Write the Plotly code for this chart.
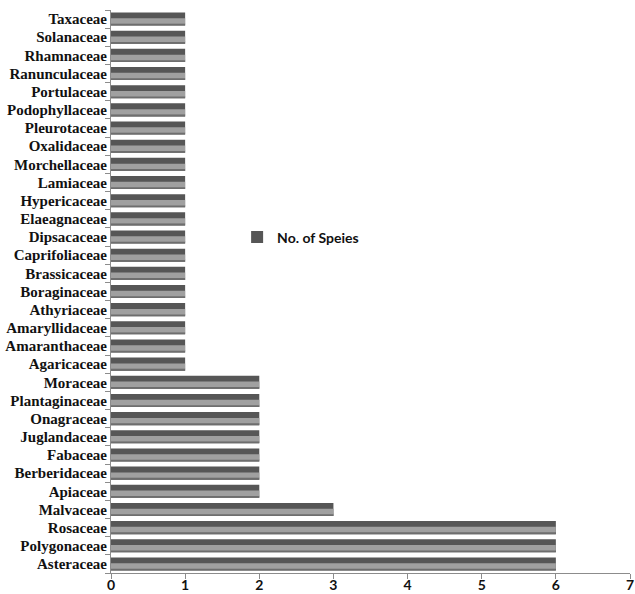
import plotly.graph_objects as go

families = [
    "Asteraceae", "Polygonaceae", "Rosaceae", "Malvaceae", "Apiaceae",
    "Berberidaceae", "Fabaceae", "Juglandaceae", "Onagraceae", "Plantaginaceae",
    "Moraceae", "Agaricaceae", "Amaranthaceae", "Amaryllidaceae", "Athyriaceae",
    "Boraginaceae", "Brassicaceae", "Caprifoliaceae", "Dipsacaceae", "Elaeagnaceae",
    "Hypericaceae", "Lamiaceae", "Morchellaceae", "Oxalidaceae", "Pleurotaceae",
    "Podophyllaceae", "Portulaceae", "Ranunculaceae", "Rhamnaceae", "Solanaceae",
    "Taxaceae",
]
species_counts = [6, 6, 6, 3, 2, 2, 2, 2, 2, 2, 2,
                  1, 1, 1, 1, 1, 1, 1, 1, 1, 1, 1, 1, 1, 1, 1, 1, 1, 1, 1, 1]
series_name = "No. of Speies"

fig = go.Figure()

# Cylinder-style shading: dark upper half, light band below it, mid-grey lower edge
fig.add_trace(go.Bar(
    y=families, x=species_counts, orientation="h", name=series_name,
    width=0.72, offset=-0.36,
    marker=dict(color="#565656", line=dict(width=0)),
    showlegend=True, hoverinfo="x+y",
))
fig.add_trace(go.Bar(
    y=families, x=species_counts, orientation="h", name=series_name,
    width=0.12, offset=-0.36,
    marker=dict(color="#6e6e6e", line=dict(width=0)),
    showlegend=False, hoverinfo="skip",
))
fig.add_trace(go.Bar(
    y=families, x=species_counts, orientation="h", name=series_name,
    width=0.3, offset=-0.26,
    marker=dict(color="#a0a0a0", line=dict(width=0)),
    showlegend=False, hoverinfo="skip",
))

fig.update_layout(
    width=635, height=594,
    margin=dict(l=111, r=5, t=10, b=21),
    barmode="overlay",
    plot_bgcolor="white", paper_bgcolor="white",
    legend=dict(
        x=0.243, y=0.596, xanchor="left", yanchor="middle",
        font=dict(family="Lato", size=14, color="#111"),
        bgcolor="rgba(0,0,0,0)", itemwidth=30,
    ),
    xaxis=dict(
        range=[0, 7], dtick=1, showgrid=False, zeroline=False,
        showline=True, linecolor="#8c8c8c", linewidth=1,
        ticks="outside", ticklen=5, tickcolor="#8c8c8c",
        ticklabelstandoff=-6,
        tickfont=dict(family="Lato", size=14, color="#111"),
        automargin=False,
    ),
    yaxis=dict(
        type="category", categoryorder="array", categoryarray=families,
        range=[-0.5, len(families) - 0.5],
        showgrid=False, zeroline=False,
        showline=True, linecolor="#8c8c8c", linewidth=1,
        ticks="outside", ticklen=5, tickcolor="#8c8c8c", tickson="boundaries",
        tickfont=dict(family="Liberation Serif", size=15, color="#111"),
        automargin=False,
    ),
)
fig.update_yaxes(tickprefix="<b>", ticksuffix="</b>")
fig.update_xaxes(tickprefix="<b>", ticksuffix="</b>")
fig.data[0].name = "<b>" + series_name + "</b>"

fig.write_html("out.html")
